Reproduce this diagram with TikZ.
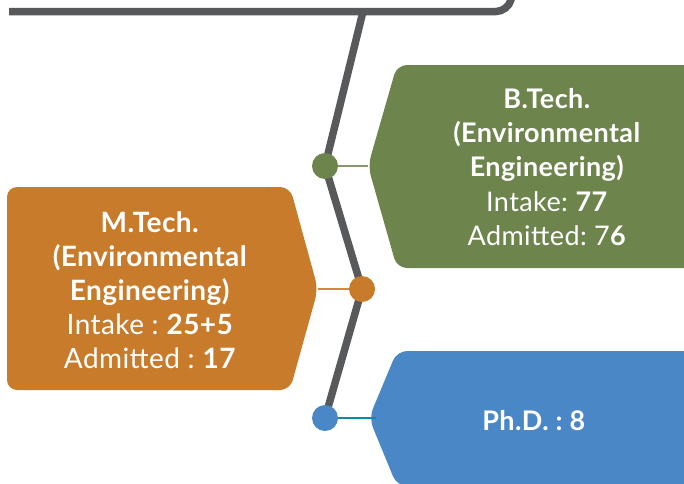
\documentclass[tikz,border=0pt]{standalone}
\usepackage{fontspec}
\setmainfont{Lato}[LetterSpace=1.5]
\usepackage{tikz}

\definecolor{stemgray}{HTML}{58595B}
\definecolor{btgreen}{HTML}{6E844D}
\definecolor{btline}{HTML}{86996A}
\definecolor{mtorange}{HTML}{C77B2B}
\definecolor{mtline}{HTML}{D4883E}
\definecolor{phblue}{HTML}{4A87C6}
\definecolor{phline}{HTML}{0E88AC}

\tikzset{
  stem/.style={draw=stemgray, line width=7.5pt},
  dot/.style={circle, inner sep=0pt, minimum size=26pt},
  link/.style={line width=2.5pt},
  label/.style={text=white, align=center, inner sep=0pt}
}

\begin{document}
\frenchspacing
\begin{tikzpicture}[x=1pt,y=-1pt]
        \useasboundingbox (0,0) rectangle (684,483);
        \clip (0,0) rectangle (684,483);

        % 三个方框
        \fill[btgreen, rounded corners=10] (700,65) -- (397,65) -- (368,166) -- (397,268) -- (700,268) -- cycle;
        \fill[mtorange, rounded corners=10] (7,187) -- (290,187) -- (318,289) -- (290,390) -- (7,390) -- cycle;
        \fill[phblue, rounded corners=10] (700,351) -- (397,351) -- (369,418) -- (397,486) -- (700,486) -- cycle;

        % 方框的尖端
        \coordinate (btip) at (368,166);
        \coordinate (mtip) at (318,289);
        \coordinate (ptip) at (376,418);

        % 主干线
        \coordinate (top) at (363,11.5);
        \coordinate (g) at (325,166);
        \coordinate (o) at (362,289);
        \coordinate (b) at (325,418);
        \draw[stem, rounded corners=12] (9,11.5) -- (508,11.5) -- (516,-20);
        \draw[stem] (top) -- (g) -- (o) -- (b);

        % 圆点
        \node[dot, fill=btgreen] (gdot) at (g) {};
        \node[dot, fill=mtorange] (odot) at (o) {};
        \node[dot, fill=phblue] (pdot) at (b) {};

        % 连接线
        \draw[link, btline] (gdot) -- (btip);
        \draw[link, mtline] (mtip) -- (odot);
        \draw[link, phline] (pdot) -- (ptip);

        % 文字
        \node[label, font=\fontsize{27}{34.3}\selectfont] (btech) at (547,167)
          {\textbf{B.Tech.}\\\textbf{(Environmental}\\\textbf{Engineering)}\\Intake: \textbf{77}\\Admitted: 7\textbf{6}};
        \node[label, font=\fontsize{28}{34}\selectfont] (mtech) at (150,290)
          {\textbf{M.Tech.}\\\textbf{(Environmental}\\\textbf{Engineering)}\\Intake : \textbf{25+5}\\Admitted : \textbf{17}};
        \node[label, anchor=base, font=\fontsize{27}{34}\selectfont] (phd) at (534,430)
          {\textbf{Ph.D. : 8}};

\end{tikzpicture}
\end{document}
